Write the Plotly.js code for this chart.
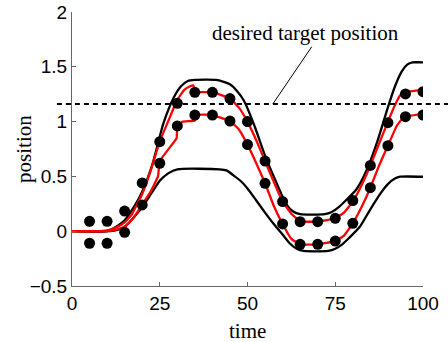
<!DOCTYPE html>
<html>
<head>
<meta charset="utf-8">
<script src="https://cdn.plot.ly/plotly-3.0.1.min.js"></script>
<style>html,body{margin:0;padding:0;background:#fff}#chart{width:448px;height:342px}</style>
</head>
<body>
<div id="chart"></div>
<script>
// measured positions (dots)
const dotX = [5,10,15,20,25,30,35,40,45,50,55,60,65,70,75,80,85,90,95,100];
const dotUpper = [0.09,0.09,0.184,0.44,0.817,1.167,1.267,1.267,1.21,1.0,0.64,0.27,0.087,0.087,0.118,0.28,0.60,0.99,1.252,1.273];
const dotLower = [-0.11,-0.11,-0.01,0.24,0.62,0.96,1.06,1.06,1.005,0.79,0.437,0.066,-0.12,-0.12,-0.09,0.072,0.397,0.78,1.045,1.06];

// black bound curves
const upperBoundX = [0,10,12,15,18,20,23,26,29,31,33,35,41,43,45,47,49,52,55,58,61,63,65,72,74,76,78,81,84,87,90,92,94,95.5,97,100];
const upperBoundY = [0,0,0.03,0.1,0.24,0.36,0.62,0.98,1.22,1.32,1.37,1.38,1.38,1.365,1.34,1.28,1.19,0.96,0.69,0.46,0.25,0.18,0.155,0.155,0.175,0.22,0.28,0.38,0.56,0.82,1.13,1.32,1.46,1.52,1.54,1.54];
const lowerBoundX = [0,10,12,15,18,20,22.5,25,27.5,30,42,44,46,48,50,52.5,55,57.5,60,62,64,66,73,75,77,79,82,85,88,90,92,93.5,100];
const lowerBoundY = [0,0,0.005,0.04,0.14,0.22,0.34,0.46,0.53,0.565,0.565,0.555,0.51,0.46,0.39,0.28,0.17,0.065,-0.03,-0.11,-0.16,-0.18,-0.18,-0.16,-0.12,-0.06,0.04,0.2,0.35,0.43,0.48,0.497,0.497];

// red estimate curves
const estUpperX = [0,8,11,13,15,17,20,22.5,25,27.5,30,32,33.5,34.5,35.5,40,45,47.5,50,52.5,55,57.5,60,62.5,65,70,75,77.5,80,82.5,85,87.5,90,92,93.5,95,100];
const estUpperY = [0,0,0.015,0.04,0.08,0.15,0.34,0.56,0.82,1.01,1.2,1.29,1.32,1.33,1.27,1.27,1.21,1.13,1.0,0.83,0.64,0.45,0.27,0.16,0.09,0.087,0.118,0.17,0.27,0.42,0.6,0.8,1.0,1.15,1.24,1.27,1.29];
const estLowerX = [0,10,12,15,17.5,20,22.2,24.5,25,29.8,30,31.5,35,35.5,40,45,47.5,50,52.5,55,57.5,60,62.5,65,70,75,77.5,80,82.5,85,87.5,90,92.5,94.5,100];
const estLowerY = [0,0,0.01,0.04,0.12,0.245,0.35,0.5,0.64,0.85,0.95,1.0,1.01,1.06,1.06,1.005,0.93,0.79,0.62,0.437,0.23,0.066,-0.07,-0.12,-0.12,-0.09,-0.04,0.072,0.22,0.397,0.6,0.78,0.96,1.04,1.07];

const xTicks = [0,25,50,75,100];
const yTicks = [-0.5,0,0.5,1,1.5,2];
const xTitle = 'time';
const yTitle = 'position';
const targetY = 1.16;
const annText = 'desired target position';
const arrowHead = [57.2, 1.16];
const arrowTail = [68.3, 1.683];
const textPos = [66.4, 1.808];

const serif = 'Liberation Serif, Times New Roman, serif';

const traces = [
  {x: upperBoundX, y: upperBoundY, mode:'lines', line:{color:'#000', width:2.3, shape:'spline', smoothing:0.6}, hoverinfo:'skip'},
  {x: lowerBoundX, y: lowerBoundY, mode:'lines', line:{color:'#000', width:2.3, shape:'spline', smoothing:0.6}, hoverinfo:'skip'},
  {x: estUpperX, y: estUpperY, mode:'lines', line:{color:'#ff0000', width:2.3, shape:'spline', smoothing:0.3}, hoverinfo:'skip'},
  {x: estLowerX, y: estLowerY, mode:'lines', line:{color:'#ff0000', width:2.3, shape:'spline', smoothing:0.3}, hoverinfo:'skip'},
  {x: dotX, y: dotUpper, mode:'markers', marker:{color:'#000', size:11}, hoverinfo:'skip'},
  {x: dotX, y: dotLower, mode:'markers', marker:{color:'#000', size:11}, hoverinfo:'skip'}
];

const axisCommon = {
  showline:true, linecolor:'#666', linewidth:1, ticks:'inside', ticklen:4, tickcolor:'#666',
  showgrid:false, zeroline:false, mirror:false,
  tickfont:{family:'Liberation Sans, Arial, sans-serif', size:19, color:'#000'}
};

const layout = {
  width:448, height:342,
  margin:{l:72, r:25, t:12, b:56},
  paper_bgcolor:'#fff', plot_bgcolor:'#fff',
  showlegend:false,
  xaxis: Object.assign({}, axisCommon, {range:[0,100], tickvals:xTicks}),
  yaxis: Object.assign({}, axisCommon, {range:[-0.5,2], tickvals:yTicks}),
  shapes:[
    {type:'line', xref:'paper', yref:'y', x0:-0.043, x1:1.08, y0:targetY, y1:targetY, line:{color:'#000', width:2, dash:'5px,4px'}},
    {type:'line', xref:'x', yref:'y', x0:arrowHead[0], y0:arrowHead[1], x1:arrowTail[0], y1:arrowTail[1], line:{color:'#000', width:1}}
  ],
  annotations:[
    {x:textPos[0], y:textPos[1], xref:'x', yref:'y', text:annText, showarrow:false,
     font:{family:serif, size:21, color:'#000'}},
    {x:0.5, y:-0.164, xref:'paper', yref:'paper', text:xTitle, showarrow:false,
     xanchor:'center', yanchor:'middle', font:{family:serif, size:21, color:'#000'}},
    {x:-0.137, y:0.5, xref:'paper', yref:'paper', text:yTitle, showarrow:false, textangle:-90,
     xanchor:'center', yanchor:'middle', font:{family:serif, size:21, color:'#000'}}
  ]
};

Plotly.newPlot('chart', traces, layout, {staticPlot:true, displayModeBar:false});
</script>
</body>
</html>
